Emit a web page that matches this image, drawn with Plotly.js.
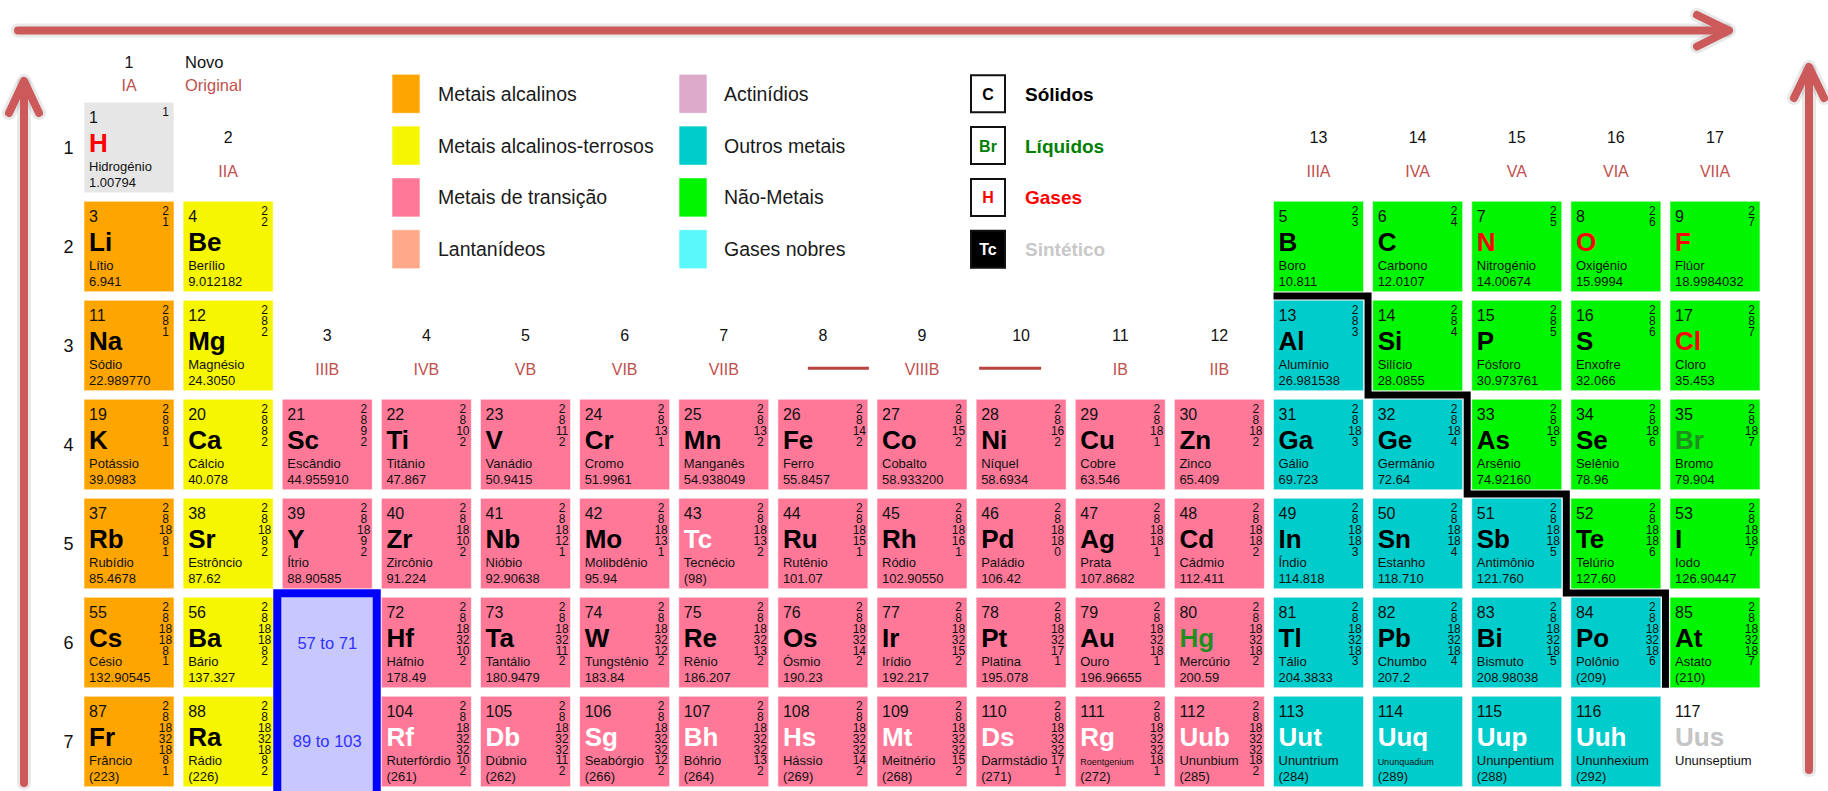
<!DOCTYPE html>
<html><head><meta charset="utf-8">
<script src="https://cdn.plot.ly/plotly-3.0.1.min.js"></script>
<style>html,body{margin:0;padding:0;background:#fff;}#chart{width:1828px;height:791px;}</style>
</head><body><div id="chart"></div>
<script>
// ================= DATA =================
const symbols = ['H','Li','Be','B','C','N','O','F','Na','Mg','Al','Si','P','S','Cl',
 'K','Ca','Sc','Ti','V','Cr','Mn','Fe','Co','Ni','Cu','Zn','Ga','Ge','As','Se','Br',
 'Rb','Sr','Y','Zr','Nb','Mo','Tc','Ru','Rh','Pd','Ag','Cd','In','Sn','Sb','Te','I',
 'Cs','Ba','Hf','Ta','W','Re','Os','Ir','Pt','Au','Hg','Tl','Pb','Bi','Po','At',
 'Fr','Ra','Rf','Db','Sg','Bh','Hs','Mt','Ds','Rg','Uub','Uut','Uuq','Uup','Uuh','Uus'];
const atomicNumbers = [1,3,4,5,6,7,8,9,11,12,13,14,15,16,17,
 19,20,21,22,23,24,25,26,27,28,29,30,31,32,33,34,35,
 37,38,39,40,41,42,43,44,45,46,47,48,49,50,51,52,53,
 55,56,72,73,74,75,76,77,78,79,80,81,82,83,84,85,
 87,88,104,105,106,107,108,109,110,111,112,113,114,115,116,117];
const names = ['Hidrogénio','Lítio','Berílio','Boro','Carbono','Nitrogénio','Oxigénio','Flúor',
 'Sódio','Magnésio','Alumínio','Silício','Fósforo','Enxofre','Cloro',
 'Potássio','Cálcio','Escândio','Titânio','Vanádio','Cromo','Manganês','Ferro','Cobalto','Níquel','Cobre','Zinco','Gálio','Germânio','Arsênio','Selênio','Bromo',
 'Rubídio','Estrôncio','Ítrio','Zircônio','Nióbio','Molibdênio','Tecnécio','Rutênio','Ródio','Paládio','Prata','Cádmio','Índio','Estanho','Antimônio','Telúrio','Iodo',
 'Césio','Bário','Háfnio','Tantálio','Tungstênio','Rênio','Ósmio','Irídio','Platina','Ouro','Mercúrio','Tálio','Chumbo','Bismuto','Polônio','Astato',
 'Frâncio','Rádio','Ruterfórdio','Dúbnio','Seabórgio','Bóhrio','Hássio','Meitnério','Darmstádio','Roentgenium','Ununbium','Ununtrium','Ununquadium','Ununpentium','Ununhexium','Ununseptium'];
const atomicWeights = ['1.00794','6.941','9.012182','10.811','12.0107','14.00674','15.9994','18.9984032',
 '22.989770','24.3050','26.981538','28.0855','30.973761','32.066','35.453',
 '39.0983','40.078','44.955910','47.867','50.9415','51.9961','54.938049','55.8457','58.933200','58.6934','63.546','65.409','69.723','72.64','74.92160','78.96','79.904',
 '85.4678','87.62','88.90585','91.224','92.90638','95.94','(98)','101.07','102.90550','106.42','107.8682','112.411','114.818','118.710','121.760','127.60','126.90447',
 '132.90545','137.327','178.49','180.9479','183.84','186.207','190.23','192.217','195.078','196.96655','200.59','204.3833','207.2','208.98038','(209)','(210)',
 '(223)','(226)','(261)','(262)','(266)','(264)','(269)','(268)','(271)','(272)','(285)','(284)','(289)','(288)','(292)',''];
const groups = [1, 1,2,13,14,15,16,17, 1,2,13,14,15,16,17,
 1,2,3,4,5,6,7,8,9,10,11,12,13,14,15,16,17,
 1,2,3,4,5,6,7,8,9,10,11,12,13,14,15,16,17,
 1,2,4,5,6,7,8,9,10,11,12,13,14,15,16,17,
 1,2,4,5,6,7,8,9,10,11,12,13,14,15,16,17];
const periods = [1, 2,2,2,2,2,2,2, 3,3,3,3,3,3,3,
 4,4,4,4,4,4,4,4,4,4,4,4,4,4,4,4,4,
 5,5,5,5,5,5,5,5,5,5,5,5,5,5,5,5,5,
 6,6,6,6,6,6,6,6,6,6,6,6,6,6,6,6,
 7,7,7,7,7,7,7,7,7,7,7,7,7,7,7,7];
const categories = ['h', 'alk','ae','nm','nm','nm','nm','nm', 'alk','ae','om','nm','nm','nm','nm',
 'alk','ae','tm','tm','tm','tm','tm','tm','tm','tm','tm','tm','om','om','nm','nm','nm',
 'alk','ae','tm','tm','tm','tm','tm','tm','tm','tm','tm','tm','om','om','om','nm','nm',
 'alk','ae','tm','tm','tm','tm','tm','tm','tm','tm','tm','om','om','om','om','nm',
 'alk','ae','tm','tm','tm','tm','tm','tm','tm','tm','tm','om','om','om','om','none'];
const states = ['g', 's','s','s','s','g','g','g', 's','s','s','s','s','s','g',
 's','s','s','s','s','s','s','s','s','s','s','s','s','s','s','s','l',
 's','s','s','s','s','s','x','s','s','s','s','s','s','s','s','s','s',
 's','s','s','s','s','s','s','s','s','s','l','s','s','s','s','s',
 's','s','x','x','x','x','x','x','x','x','x','x','x','x','x','u'];
const shells = ['1','2 1','2 2','2 3','2 4','2 5','2 6','2 7',
 '2 8 1','2 8 2','2 8 3','2 8 4','2 8 5','2 8 6','2 8 7',
 '2 8 8 1','2 8 8 2','2 8 9 2','2 8 10 2','2 8 11 2','2 8 13 1','2 8 13 2','2 8 14 2','2 8 15 2','2 8 16 2','2 8 18 1','2 8 18 2','2 8 18 3','2 8 18 4','2 8 18 5','2 8 18 6','2 8 18 7',
 '2 8 18 8 1','2 8 18 8 2','2 8 18 9 2','2 8 18 10 2','2 8 18 12 1','2 8 18 13 1','2 8 18 13 2','2 8 18 15 1','2 8 18 16 1','2 8 18 18 0','2 8 18 18 1','2 8 18 18 2','2 8 18 18 3','2 8 18 18 4','2 8 18 18 5','2 8 18 18 6','2 8 18 18 7',
 '2 8 18 18 8 1','2 8 18 18 8 2','2 8 18 32 10 2','2 8 18 32 11 2','2 8 18 32 12 2','2 8 18 32 13 2','2 8 18 32 14 2','2 8 18 32 15 2','2 8 18 32 17 1','2 8 18 32 18 1','2 8 18 32 18 2','2 8 18 32 18 3','2 8 18 32 18 4','2 8 18 32 18 5','2 8 18 32 18 6','2 8 18 32 18 7',
 '2 8 18 32 18 8 1','2 8 18 32 18 8 2','2 8 18 32 32 10 2','2 8 18 32 32 11 2','2 8 18 32 32 12 2','2 8 18 32 32 13 2','2 8 18 32 32 14 2','2 8 18 32 32 15 2','2 8 18 32 32 17 1','2 8 18 32 32 18 1','2 8 18 32 32 18 2','','','','',''];
const smallNames = ['Roentgenium','Ununquadium'];

const groupNumbers = ['1','2','3','4','5','6','7','8','9','10','11','12','13','14','15','16','17'];
const groupRoman = ['IA','IIA','IIIB','IVB','VB','VIB','VIIB','','VIIIB','','IB','IIB','IIIA','IVA','VA','VIA','VIIA'];
const dashGroups = [8, 10];
const periodLabels = ['1','2','3','4','5','6','7'];
const fBlockRanges = ['57 to 71', '89 to 103'];

const legendKeys = ['alk','ae','tm','lan','act','om','nm','ng'];
const legendLabels = ['Metais alcalinos','Metais alcalinos-terrosos','Metais de transição','Lantanídeos',
                      'Actinídios','Outros metais','Não-Metais','Gases nobres'];
const stateKeys = ['s','l','g','x'];
const stateSamples = ['C','Br','H','Tc'];
const stateLabels = ['Sólidos','Líquidos','Gases','Sintético'];
const stairCols = [13,14,15,16];
const stairRows = [2,3,4,5];

// ================= STYLE =================
const catColor = {h:'#e6e6e6', alk:'#ffa500', ae:'#f6f600', tm:'#ff7898', lan:'#ffa98a',
  act:'#ddaacc', om:'#00cccc', nm:'#00f500', ng:'#5af8f8'};
const stateColor = {s:'#000000', l:'#1f8f1f', g:'#ff0000', x:'#ffffff', u:'#c4c4c4'};
const stateLegendColor = {s:'#000000', l:'#008000', g:'#ff0000', x:'#c8c8c8'};
const FONT = 'Liberation Sans, Arial, sans-serif';
const ROMAN = '#c0504d';
const ARROW = '#cd5a5a';

// pixel geometry of the grid
const PX = 99.125, PY = 99, CX0 = 129, CY0 = 147.5, CW = 90, CH = 90.5;
const dX = px => 1 + (px - CX0) / PX;          // absolute pixel -> data
const dY = py => 1 + (py - CY0) / PY;
const cx = (g, off) => g + (off - CW / 2) / PX;   // offset from cell left
const cy = (p, off) => p + (off - CH / 2) / PY;   // offset from cell top
const base = (fs) => 0.25 * fs;                   // plotly text baseline shift

// ================= SHAPES =================
const shapes = [];
symbols.forEach((s, i) => {
  const c = categories[i];
  if (c === 'none') return;
  shapes.push({type:'rect', xref:'x', yref:'y', layer:'below',
    x0:cx(groups[i],0), x1:cx(groups[i],CW), y0:cy(periods[i],0), y1:cy(periods[i],CH),
    fillcolor:catColor[c], line:{color:'rgba(255,255,255,0.55)', width:1}});
});
// f-block placeholder (group 3, periods 6-7)
shapes.push({type:'rect', xref:'x', yref:'y', layer:'below',
  x0:cx(3,-5), x1:cx(3,94.5), y0:cy(6,-4), y1:cy(7,100),
  fillcolor:'#c8c8ff', line:{color:'#0000ff', width:8}});
// metal / non-metal staircase
(function(){
  let pts = [[cx(stairCols[0],0), stairRows[0]+0.5]];
  stairCols.forEach((c, k) => {
    pts.push([c+0.5, stairRows[k]+0.5]);
    pts.push([c+0.5, k < stairCols.length-1 ? stairRows[k]+1.5 : cy(stairRows[k]+1, CH)]);
  });
  shapes.push({type:'path', xref:'x', yref:'y', layer:'below',
    path:'M ' + pts.map(p => p[0] + ',' + p[1]).join(' L '), line:{color:'#000', width:7}});
})();
// dashes under groups 8 & 10
const dashOff = {8:[-15,46], 10:[-42,20]};
dashGroups.forEach(g => {
  shapes.push({type:'line', xref:'x', yref:'y', layer:'below',
    x0:g + dashOff[g][0]/PX, x1:g + dashOff[g][1]/PX, y0:cy(4,-31), y1:cy(4,-31),
    line:{color:'#b8433f', width:3}});
});
// legend swatches
const LROW = [93.8, 145.6, 197.4, 249.2];
legendKeys.forEach((k, i) => {
  const col = Math.floor(i/4), r = i % 4;
  const x0 = col === 0 ? 392 : 679;
  shapes.push({type:'rect', xref:'x', yref:'y', layer:'below',
    x0:dX(x0), x1:dX(x0+28), y0:dY(LROW[r]-19.5), y1:dY(LROW[r]+19.5),
    fillcolor:catColor[k], line:{color:'rgba(255,255,255,0.6)', width:1}});
});
stateKeys.forEach((k, r) => {
  shapes.push({type:'rect', xref:'x', yref:'y', layer:'below',
    x0:dX(971), x1:dX(1005), y0:dY(LROW[r]-18.5), y1:dY(LROW[r]+18.5),
    fillcolor: k === 'x' ? '#000' : '#fff', line:{color:'#111', width:2}});
});
// decorative arrows
const arrowStart = shapes.length;
function pathPx(pts){ return 'M ' + pts.map(p => dX(p[0]) + ',' + dY(p[1])).join(' L '); }
const arrows = [
  [[18,30.5],[1726,30.5]], [[1697,15],[1729,30.5],[1697,46.5]],
  [[24,783],[24,84]], [[9,113],[24,81],[39,113]],
  [[1809,770],[1809,70]], [[1794,98],[1809,67],[1824,98]]
];
arrows.forEach(a => shapes.push({type:'path', xref:'x', yref:'y', layer:'below',
  path:pathPx(a), line:{color:'rgba(0,0,0,0.09)', width:14}}));
arrows.forEach(a => shapes.push({type:'path', xref:'x', yref:'y', layer:'below',
  path:pathPx(a), line:{color:ARROW, width:8}}));

// ================= TEXT TRACES =================
function tt(x, y, text, pos, font){
  return {type:'scatter', mode:'text', x, y, text, textposition:pos,
    textfont:Object.assign({family:FONT}, font), hoverinfo:'skip', cliponaxis:false, showlegend:false};
}
const traces = [];
// atomic numbers
traces.push(tt(symbols.map((s,i)=>cx(groups[i],5)), symbols.map((s,i)=>cy(periods[i],20.5-base(16))),
  atomicNumbers.map(String), 'middle right', {size:16, color:'#111'}));
// symbols
traces.push(tt(symbols.map((s,i)=>cx(groups[i],5)), symbols.map((s,i)=>cy(periods[i],50-base(26))),
  symbols, 'middle right', {size:26, weight:'bold', color:states.map(s=>stateColor[s])}));
// names
const nameSize = names.map(n => smallNames.includes(n) ? 9 : 13);
traces.push(tt(symbols.map((s,i)=>cx(groups[i],5)), symbols.map((s,i)=>cy(periods[i],68.5-base(nameSize[i]))),
  names, 'middle right', {size:nameSize, color:'#111'}));
// weights
traces.push(tt(symbols.map((s,i)=>cx(groups[i],5)), symbols.map((s,i)=>cy(periods[i],84.5-base(13))),
  atomicWeights, 'middle right', {size:13, color:'#111'}));
// electron shells
(function(){
  const ex = [], ey = [], et = [];
  shells.forEach((sh, i) => {
    if (!sh) return;
    sh.split(' ').forEach((v, j) => {
      ex.push(cx(groups[i], 81.5)); ey.push(cy(periods[i], 14.2 + j*10.8 - base(12))); et.push(v);
    });
  });
  traces.push(tt(ex, ey, et, 'middle center', {size:12, color:'#111'}));
})();
// group labels
(function(){
  const gx = [], gy = [], gt = [], rx = [], ry = [], rt = [];
  groupNumbers.forEach((lab, k) => {
    const g = k + 1;
    const topRow = Math.min(...periods.filter((p,i)=>groups[i]===g));
    const o1 = topRow === 1 ? -34 : -58, o2 = topRow === 1 ? -11 : -24;
    gx.push(g); gy.push(cy(topRow, o1 - base(16))); gt.push(lab);
    if (groupRoman[k]) { rx.push(g); ry.push(cy(topRow, o2 - base(16))); rt.push(groupRoman[k]); }
  });
  traces.push(tt(gx, gy, gt, 'middle center', {size:16, color:'#111'}));
  traces.push(tt(rx, ry, rt, 'middle center', {size:16, color:ROMAN}));
  traces.push(tt([dX(185)], [dY(68 - base(16.5))], ['Novo'], 'middle right', {size:16.5, color:'#111'}));
  traces.push(tt([dX(185)], [dY(91 - base(16.5))], ['Original'], 'middle right', {size:16.5, color:ROMAN}));
})();
// period labels
traces.push(tt(periodLabels.map(()=>dX(68.5)), periodLabels.map((l,k)=>cy(k+1, CH/2+6.5-base(18))),
  periodLabels, 'middle center', {size:18, color:'#111'}));
// f-block texts
traces.push(tt([3,3], [cy(6, CH/2+6-base(16.5)), cy(7, CH/2+5.5-base(16.5))], fBlockRanges,
  'middle center', {size:16.5, color:'#3030ff'}));
// legend texts
traces.push(tt(legendLabels.map((l,i)=>dX(i<4?438:724)), legendLabels.map((l,i)=>dY(LROW[i%4]+7-base(19.5))),
  legendLabels, 'middle right', {size:19.5, color:'#1a1a1a'}));
traces.push(tt(stateLabels.map(()=>dX(1025)), stateLabels.map((l,i)=>dY(LROW[i]+7-base(19))),
  stateLabels, 'middle right', {size:19, weight:'bold', color:stateKeys.map(k=>stateLegendColor[k])}));
traces.push(tt(stateSamples.map(()=>dX(988)), stateSamples.map((l,i)=>dY(LROW[i]+6-base(16))),
  stateSamples, 'middle center', {size:16, weight:'bold',
  color:stateKeys.map(k=> k==='x' ? '#fff' : (k==='l' ? '#008000' : stateLegendColor[k]))}));

const layout = {
  width:1828, height:791, margin:{l:0,r:0,t:0,b:0,pad:0},
  paper_bgcolor:'#fff', plot_bgcolor:'#fff', showlegend:false,
  xaxis:{range:[dX(0), dX(1828)], visible:false, fixedrange:true},
  yaxis:{range:[dY(791), dY(0)], visible:false, fixedrange:true},
  shapes:shapes, font:{family:FONT}
};
Plotly.newPlot('chart', traces, layout, {staticPlot:true, displayModeBar:false}).then(() => {
  document.querySelectorAll('.shapelayer path').forEach(p => {
    const idx = +p.getAttribute('data-index');
    if (idx >= arrowStart) { p.style.strokeLinecap = 'round'; p.style.strokeLinejoin = 'round'; }
  });
});
</script>
</body></html>
